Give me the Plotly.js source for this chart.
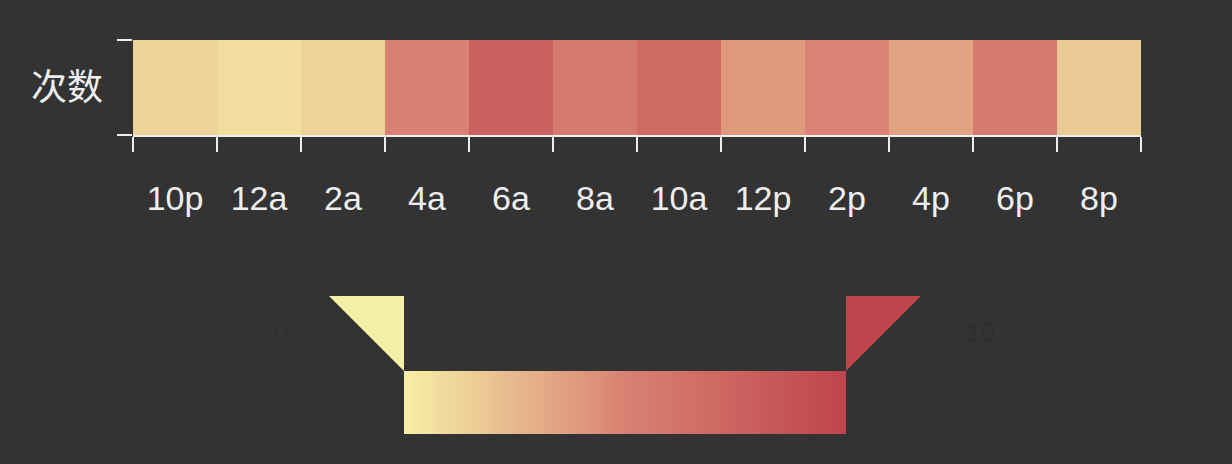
<!DOCTYPE html>
<html>
<head>
<meta charset="utf-8">
<script src="https://cdn.plot.ly/plotly-3.0.1.min.js"></script>
<style>html,body{margin:0;padding:0;background:#333333;}#chart{width:1232px;height:464px;}</style>
</head>
<body>
<div id="chart"></div>
<script>
// ---- data ----
const hours = ['10p', '12a', '2a', '4a', '6a', '8a', '10a', '12p', '2p', '4p', '6p', '8p'];
const rowLabels = ['次数'];
const counts = [1.3, 0.8, 1.3, 5.0, 7.7, 5.6, 6.9, 3.9, 4.9, 3.5, 5.6, 1.7];
const minValue = 0;
const maxValue = 10;
const minLabel = '0';
const maxLabel = '10';

// ---- layout geometry ----
const W = 1232, H = 464;
const M = {l: 133, r: 91, t: 40, b: 329};
const plotW = W - M.l - M.r, plotH = H - M.t - M.b;
const px = X => (X - M.l) / plotW;
const py = Y => (H - M.b - Y) / plotH;

const scaleColors = [[0, '#f6efa6'], [0.5, '#d88273'], [1, '#bf444c']];

// visual map geometry (pixels)
const bar = {x0: 404, x1: 846, y0: 371, y1: 434};
const handleH = 75, handleW = 75;

const trace = {
  type: 'heatmap',
  x: hours,
  y: rowLabels,
  z: [counts],
  zmin: minValue,
  zmax: maxValue,
  colorscale: scaleColors,
  colorbar: {
    orientation: 'h',
    xref: 'container', yref: 'container',
    x: bar.x0 / plotW, xanchor: 'left',
    y: (H - bar.y1) / H, yanchor: 'bottom',
    lenmode: 'pixels', len: bar.x1 - bar.x0,
    thickness: bar.y1 - bar.y0,
    xpad: 0, ypad: 0,
    outlinewidth: 0,
    showticklabels: false,
    ticks: ''
  }
};

const tri = (pts, color) => ({
  type: 'path', xref: 'paper', yref: 'paper',
  path: 'M' + pts.map(p => px(p[0]) + ',' + py(p[1])).join(' L') + ' Z',
  fillcolor: color, line: {width: 0}, layer: 'above'
});

const layout = {
  width: W, height: H,
  margin: M,
  paper_bgcolor: '#333333',
  plot_bgcolor: '#333333',
  font: {family: 'Liberation Sans, Arial, sans-serif', color: '#eeeeee'},
  xaxis: {
    type: 'category',
    tickson: 'boundaries',
    ticks: 'outside', ticklen: 15, tickwidth: 2, tickcolor: '#eeeeee',
    showline: true, linecolor: '#eeeeee', linewidth: 2,
    showgrid: false, zeroline: false,
    ticklabelstandoff: 32,
    tickfont: {size: 34, color: '#eeeeee', family: 'Liberation Sans, Arial, sans-serif'},
    fixedrange: true
  },
  yaxis: {
    type: 'category',
    tickson: 'boundaries',
    ticks: 'outside', ticklen: 15, tickwidth: 2, tickcolor: '#eeeeee',
    showline: false, showgrid: false, zeroline: false,
    ticklabelstandoff: 29,
    tickfont: {size: 36, color: '#eeeeee', family: 'Noto Sans CJK SC, sans-serif'},
    fixedrange: true
  },
  shapes: [
    tri([[bar.x0 - handleW, bar.y0 - handleH], [bar.x0, bar.y0 - handleH], [bar.x0, bar.y0]], '#f6efa6'),
    tri([[bar.x1, bar.y0 - handleH], [bar.x1 + handleW, bar.y0 - handleH], [bar.x1, bar.y0]], '#bf444c')
  ],
  annotations: [
    {xref: 'paper', yref: 'paper', x: px(281), y: py(332), xanchor: 'center', yanchor: 'middle',
     text: minLabel, showarrow: false, font: {size: 26, color: '#2e2e2e'}},
    {xref: 'paper', yref: 'paper', x: px(980), y: py(332), xanchor: 'center', yanchor: 'middle',
     text: maxLabel, showarrow: false, font: {size: 26, color: '#2e2e2e'}}
  ]
};

Plotly.newPlot('chart', [trace], layout, {displayModeBar: false, staticPlot: true});
</script>
</body>
</html>
